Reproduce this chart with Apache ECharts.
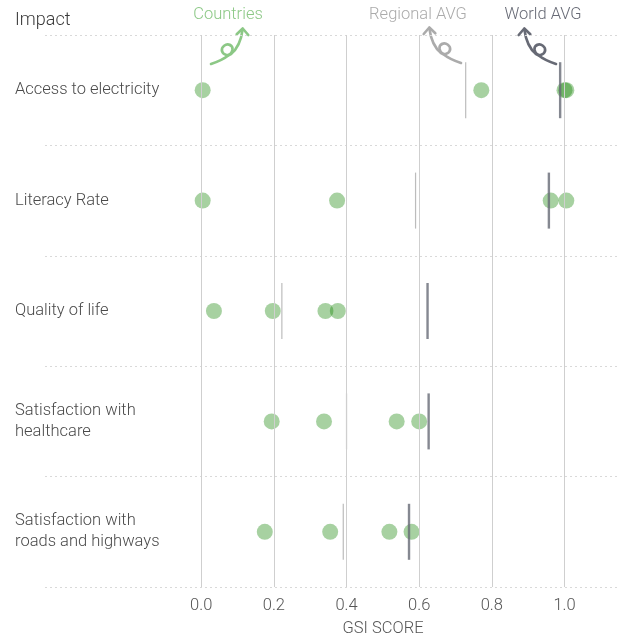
<!DOCTYPE html>
<html>
<head>
<meta charset="utf-8">
<script src="https://cdn.jsdelivr.net/npm/echarts@6/dist/echarts.min.js"></script>
<style>
  html, body { margin: 0; padding: 0; background: #fff; }
  #chart { width: 619px; height: 639px; }
</style>
</head>
<body>
<div id="chart"></div>
<script>
// Impact categories, top to bottom
const categories = [
  'Access to electricity',
  'Literacy Rate',
  'Quality of life',
  'Satisfaction with\nhealthcare',
  'Satisfaction with\nroads and highways'
];

// GSI scores of the individual countries, one list per category
const accessToElectricity = [0.004, 0.771, 1.0, 1.005];
const literacyRate        = [0.004, 0.374, 0.962, 1.005];
const qualityOfLife       = [0.035, 0.197, 0.342, 0.376];
const healthcare          = [0.194, 0.338, 0.538, 0.600];
const roadsAndHighways    = [0.175, 0.355, 0.518, 0.579];
const countryScores = [accessToElectricity, literacyRate, qualityOfLife, healthcare, roadsAndHighways];

// Averages per category
const regionalAvg = [0.728, 0.590, 0.222, 0.400, 0.391];
const worldAvg    = [0.988, 0.957, 0.623, 0.626, 0.572];

// x-axis tick labels
const tickValues = [0, 0.2, 0.4, 0.6, 0.8, 1.0];

const FONT = "Roboto, 'Helvetica Neue', Arial, sans-serif";
const TEXT_COLOR = '#4a4a4a';
const GREEN_TEXT = '#8cc886';
const REGIONAL_COLOR = '#ababab';
const WORLD_COLOR = '#676a75';

const countryPoints = [];
countryScores.forEach((vals, i) => {
  vals.forEach(v => countryPoints.push([v, categories[i]]));
});

// curly annotation arrow, drawn from its tail (0,0) up to the head
const curlSegments = [
  [0, 0, 6, -2, 13, -5, 18, -9],
  [18, -9, 22, -12, 23, -17, 19, -19],
  [19, -19, 15, -21, 10, -17, 11, -13],
  [11, -13, 12, -9, 17, -8, 20, -10],
  [20, -10, 25, -14, 30, -22, 31.7, -35]
];
const headPoints = [[25.7, -29.7], [31.7, -35.5], [37.3, -29]];
function curlyArrow(x, y, color, mirror) {
  const stroke = { fill: null, stroke: color, lineWidth: 2.6, lineCap: 'round', lineJoin: 'round' };
  const children = curlSegments.map(s => ({
    type: 'bezierCurve',
    shape: { x1: s[0], y1: s[1], cpx1: s[2], cpy1: s[3], cpx2: s[4], cpy2: s[5], x2: s[6], y2: s[7] },
    style: stroke
  }));
  children.push({ type: 'polyline', shape: { points: headPoints }, style: stroke });
  return { type: 'group', x: x, y: y, scaleX: mirror ? -1 : 1, silent: true, children: children };
}

const chart = echarts.init(document.getElementById('chart'), null, { renderer: 'canvas' });

chart.setOption({
  backgroundColor: '#fff',
  animation: false,
  textStyle: { fontFamily: FONT },
  title: {
    text: 'Impact',
    left: 10, top: 6,
    textStyle: { fontFamily: FONT, fontSize: 18, fontWeight: 300, color: '#3a3a3a' }
  },
  grid: { left: 45, right: 0, top: 35, bottom: 52, containLabel: false, outerBoundsMode: 'none' },
  xAxis: {
    type: 'value',
    min: -0.43, max: 1.15,
    name: 'GSI SCORE',
    nameLocation: 'middle',
    nameGap: 33,
    nameTextStyle: { fontFamily: FONT, fontSize: 16.5, fontWeight: 300, color: '#555', padding: [0, 0, 0, 102] },
    axisLine: { show: false },
    axisTick: { show: false, customValues: tickValues },
    splitLine: { show: false },
    axisLabel: {
      customValues: tickValues,
      margin: 10,
      fontFamily: FONT, fontSize: 16.5, fontWeight: 300, color: '#555',
      formatter: v => v.toFixed(1)
    }
  },
  yAxis: {
    type: 'category',
    data: categories,
    inverse: true,
    axisLine: { show: false },
    axisTick: { show: false },
    splitLine: { show: true, lineStyle: { color: '#d9d9d9', width: 1, type: [2, 3] } },
    axisLabel: {
      align: 'left',
      margin: 30,
      padding: [4, 0, 0, 0],
      fontFamily: FONT, fontSize: 16.5, fontWeight: 300, color: TEXT_COLOR, lineHeight: 21
    }
  },
  series: [
    {
      // vertical grid lines at the labelled ticks
      type: 'scatter',
      data: [],
      silent: true,
      z: 1,
      markLine: {
        silent: true,
        symbol: 'none',
        label: { show: false },
        lineStyle: { color: '#cfcfcf', width: 1, type: 'solid' },
        data: tickValues.map(v => ({ xAxis: v }))
      }
    },
    {
      name: 'Countries',
      type: 'scatter',
      data: countryPoints,
      symbol: 'circle',
      symbolSize: 16,
      z: 3,
      itemStyle: { color: 'rgba(15,130,0,0.46)' }
    },
    {
      name: 'Regional AVG',
      type: 'scatter',
      data: regionalAvg.map((v, i) => [v, categories[i]]),
      symbol: 'rect',
      symbolSize: [1.2, 56],
      z: 4,
      itemStyle: { color: REGIONAL_COLOR }
    },
    {
      name: 'World AVG',
      type: 'scatter',
      data: worldAvg.map((v, i) => [v, categories[i]]),
      symbol: 'rect',
      symbolSize: [2.4, 56],
      z: 5,
      itemStyle: { color: WORLD_COLOR }
    }
  ],
  graphic: [
    { type: 'text', x: 228, y: 15, style: { text: 'Countries', fill: GREEN_TEXT, font: '300 16.5px ' + FONT, textAlign: 'center', textVerticalAlign: 'middle' } },
    { type: 'text', x: 418, y: 15, style: { text: 'Regional AVG', fill: REGIONAL_COLOR, font: '300 16.5px ' + FONT, textAlign: 'center', textVerticalAlign: 'middle' } },
    { type: 'text', x: 543, y: 15, style: { text: 'World AVG', fill: WORLD_COLOR, font: '300 16.5px ' + FONT, textAlign: 'center', textVerticalAlign: 'middle' } },
    curlyArrow(211, 64, GREEN_TEXT, false),
    curlyArrow(461, 63, REGIONAL_COLOR, true),
    curlyArrow(556, 64, WORLD_COLOR, true)
  ]
});
</script>
</body>
</html>
